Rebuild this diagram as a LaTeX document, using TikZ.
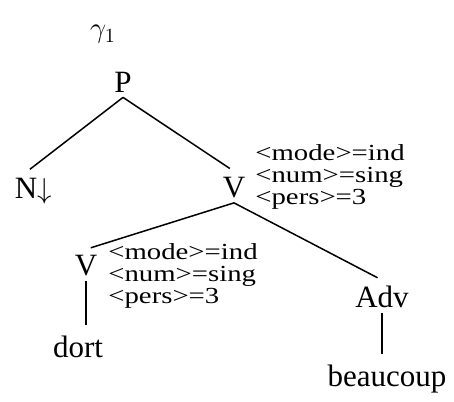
\documentclass[tikz,border=0pt]{standalone}
\usepackage{fontspec}
\setmainfont{Liberation Serif}
\newfontfamily\featfont[FakeStretch=1.25]{Liberation Serif}
\usepackage{tikz}
\usetikzlibrary{calc}

\begin{document}
\begin{tikzpicture}[x=0.5pt, y=-0.5pt,
    cat/.style={font=\fontsize{15.5}{18}\selectfont, inner sep=2.5pt, anchor=base},
    feats/.style={font=\featfont\fontsize{11.5}{11}\selectfont, align=left,
                  inner sep=0pt, anchor=base west},
    branch/.style={line width=0.75pt, shorten >=2.5pt}]

\useasboundingbox (0,0) rectangle (454,401);

% Tree name
\node[font=\fontsize{14}{16}\selectfont, anchor=base] (gamma) at (103, 38) {$\gamma_1$};

% Root and first level
\node[cat] (P) at (123, 92) {P};
\node[cat] (N) at (26, 198) {N\rlap{$\downarrow$}};
\node[cat] (Vtop) at (234, 197) {V};
\node[feats] (Vtopfeats) at (255, 204)
    {<mode>=ind\\<num>=sing\\<pers>=3};

% Second level
\node[cat] (Vlow) at (86, 275) {V};
\node[feats] (Vlowfeats) at (108, 303)
    {<mode>=ind\\<num>=sing\\<pers>=3};
\node[cat] (Adv) at (382, 307) {Adv};

% Words
\node[cat] (dort) at (78, 357) {dort};
\node[cat] (beaucoup) at (387, 386) {beaucoup};

% Branches
\draw[branch] (P.south) -- (N.north);
\draw[branch] (P.south) -- (Vtop.north);
\draw[branch] (Vtop.south) -- (Vlow.north);
\draw[branch] (Vtop.south) -- (Adv.north);
\draw[branch] (Vlow.south) -- (Vlow.south |- dort.north);
\draw[branch] (Adv.south) -- (Adv.south |- beaucoup.north);

\end{tikzpicture}
\end{document}
